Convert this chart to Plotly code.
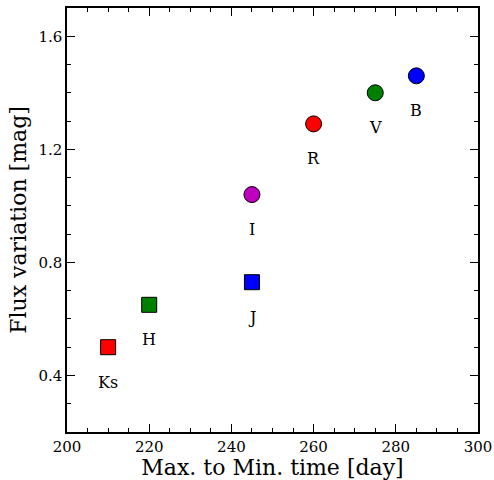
import plotly.graph_objects as go

bands = ["Ks", "H", "J", "I", "R", "V", "B"]
times = [210, 220, 245, 245, 260, 275, 285]
flux = [0.50, 0.65, 0.73, 1.04, 1.29, 1.40, 1.46]
colors = ["#ff0000", "#008000", "#0000ff", "#bf00bf", "#ff0000", "#008000", "#0000ff"]
symbols = ["square", "square", "square", "circle", "circle", "circle", "circle"]
xticks = [200, 220, 240, 260, 280, 300]
yticks = [0.4, 0.8, 1.2, 1.6]

font = "DejaVu Serif"
fig = go.Figure()
fig.add_trace(go.Scatter(
    x=times, y=flux, mode="markers",
    marker=dict(color=colors, symbol=symbols, size=[15, 15, 15, 16, 16, 16, 16],
                opacity=1, line=dict(color="black", width=1)),
    showlegend=False, hoverinfo="skip"))

for b, x, y in zip(bands, times, flux):
    fig.add_annotation(x=x, y=y, text=b, showarrow=False, yshift=-35,
                       font=dict(family=font, size=16, color="black"))

axis_common = dict(
    showline=True, linecolor="black", linewidth=1.5, mirror="allticks",
    ticks="inside", ticklen=8, tickwidth=1.2, tickcolor="black",
    showgrid=False, zeroline=False, automargin=False,
    tickfont=dict(family=font, size=15, color="black"),
)
fig.update_xaxes(range=[200, 300], tickvals=xticks, title=dict(text="Max. to Min. time [day]", font=dict(family=font, size=22, color="black"), standoff=0),
                 minor=dict(dtick=5, ticklen=4, tickwidth=1, tickcolor="black", ticks="inside", tick0=200, showgrid=False),
                 **axis_common)
fig.update_yaxes(range=[0.2, 1.7], tickvals=yticks, tickformat=".1f",
                 title=dict(text="Flux variation [mag]", font=dict(family=font, size=22, color="black"), standoff=6),
                 minor=dict(dtick=0.1, ticklen=4, tickwidth=1, tickcolor="black", ticks="inside", tick0=0.2, showgrid=False),
                 **axis_common)
fig.update_layout(width=494, height=480, margin=dict(l=67, r=16, t=8, b=48),
                  plot_bgcolor="white", paper_bgcolor="white")
fig.write_html("out.html", config={"displayModeBar": False},
               post_script="document.body.style.margin='0';")
